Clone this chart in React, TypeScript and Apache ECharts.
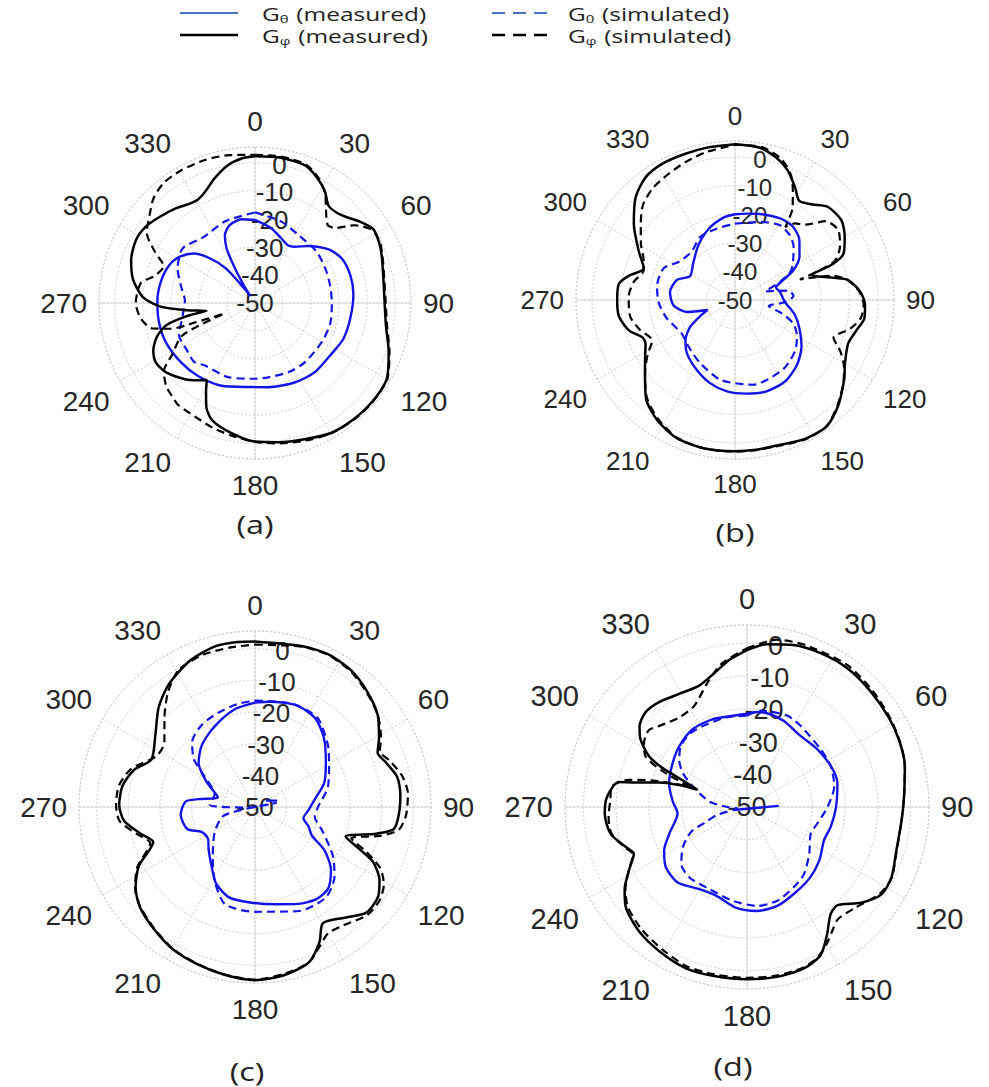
import React, { useEffect, useRef } from "react";
import * as echarts from "echarts";

// ---------- axis values ----------
const R_MIN = -50;
const R_MAX = 5.6;
const R_STEP = 10;
const ANGLE_STEP = 30;

// ---------- series names ----------
const NAME_T_MEAS = "Gθ (measured)";
const NAME_P_MEAS = "Gφ (measured)";
const NAME_T_SIM = "G0 (simulated)";
const NAME_P_SIM = "Gφ (simulated)";

// ---------- panel (a) : [angle deg, gain dB] ----------
const A_phiMeas = [
  [0, 2.3], [10, 2.6], [20, 2.2], [26, 0], [32, -3], [37, -6.5], [42, -6.6], [47, -5.2], [52, -2.8], [58, -0.3],
  [64, -0.8], [70, -1.9], [80, -3.5], [90, -3.8], [100, -2.6], [110, 0.7], [120, 4.2], [130, 4.6], [140, 4.3],
  [150, 3.6], [160, 1.7], [170, 0.4], [180, -0.6], [190, -2.8], [200, -5.5], [205, -9], [209, -14], [212, -17.6],
  [217, -15.5], [222, -13.3], [232, -9.8], [239, -8.8], [245, -10], [251, -13], [256, -17.5], [259, -25],
  [261, -32.5], [264, -25.5], [268, -16], [273, -10], [281, -5.7], [289, -3.3], [298, -2.0], [305, -2.5],
  [312, -4.2], [320, -6], [326, -7.5], [331, -7.9], [336, -6.5], [342, -3.3], [349, 0.1], [355, 1.8], [360, 2.3],
];
const A_phiSim = [
  [0, 2.8], [10, 3], [20, 2.6], [27, 0], [33, -4], [37, -8], [43, -12], [47, -10.8], [52, -5], [58, -0.8],
  [64, -0.5], [70, -1.6], [80, -3.2], [90, -3.4], [100, -2.2], [110, 1], [120, 4.4], [130, 4.8], [140, 4.5],
  [150, 3.8], [160, 2.2], [170, 0.8], [180, -0.5], [190, -2], [199, -3.1], [211, -4.4], [217, -4.5], [222, -5.6],
  [227, -6.7], [233, -9.3], [238, -15.1], [246, -21.7], [251, -38.4], [252, -27.3], [253, -18.6], [256, -12.4],
  [262, -9], [270, -7.5], [280, -8.7], [285, -12.9], [292, -14.9], [297, -10], [303, -4], [310, -1], [316, 2],
  [323, 3.8], [331, 4.1], [341, 4], [350, 3.5], [360, 2.8],
];
const A_thetaMeas = [
  [0, -20.4], [12, -22.7], [22, -25.1], [30, -26.3], [35, -25.5], [43, -22.2], [54, -17.5], [63, -15.2],
  [74, -14.6], [85, -14.8], [99, -15.6], [112, -16], [123, -17.2], [139, -17.4], [153, -18.3], [171, -19.6],
  [183, -20], [202, -18.2], [218, -17], [231, -16.2], [246, -15.3], [259, -15.1], [271, -15.2], [283, -15.6],
  [294, -16.6], [302, -18.7], [309, -22], [315, -27.7], [320, -34], [324, -44], [326, -47], [328, -42],
  [330, -35.8], [332.5, -28.1], [336, -23.6], [342, -20.8], [351, -19.8], [360, -20.4],
];
const A_thetaSim = [
  [0, -17.7], [18, -19.5], [33, -21.3], [50, -21.4], [64, -22.1], [77, -22.5], [90, -22.6], [105, -22.2],
  [120, -22.4], [140, -22.4], [154, -22.6], [170, -23.1], [180, -23], [200, -21.9], [219, -21.4], [226, -19.8],
  [236, -20.5], [247, -20.6], [260, -23.8], [272, -25], [283, -22.9], [294, -19.8], [307, -17.7], [322, -20.2],
  [340, -19], [360, -17.7],
];

// ---------- panel (b) ----------
const B_phiMeas = [
  [0, 4.5], [9, 4], [16, 1.9], [22, -1], [28, -5.3], [33, -8.7], [39, -7], [45, -4], [53, -3.5], [60, -5.7],
  [67, -8.8], [70, -14], [72, -21.7], [77, -15.2], [80, -9.8], [86, -6.2], [92, -4.5], [98, -4.3], [104, -6.2],
  [111, -7.6], [120, -5.6], [126, -2.8], [136, 1.8], [144, 4.6], [153, 4.4], [163, 3], [172, 2.9], [180, 2.9],
  [192, 3], [203, 2.4], [213, 0], [222, -3.5], [231, -9.5], [237, -12.5], [244, -15.2], [248, -15.1],
  [254, -11.4], [262, -9], [270, -8.8], [278, -9], [283, -12], [289, -16.3], [297, -12.2], [307, -5.7],
  [316, 0], [324, 3.1], [332, 4], [341, 4], [350, 4.2], [360, 4.5],
];
const B_phiSim = [
  [0, 4.3], [10, 4.3], [18, 2], [24, -2], [28, -6.9], [32, -12], [34.6, -19], [38, -16], [43, -14], [49, -8],
  [56, -6.4], [63, -8.8], [69, -13.1], [72.4, -26.2], [76, -15], [80, -10], [86, -6.5], [92, -5], [98, -5.5],
  [104, -8.5], [111, -13.1], [116, -9], [122, -5], [128, -2], [136, 1.5], [144, 4.5], [153, 4.6], [163, 3.3],
  [172, 3], [180, 3], [192, 3], [203, 2.2], [213, -0.5], [222, -4], [231, -9.5], [238, -14], [244, -17.8],
  [252.5, -15.2], [261, -12.9], [272, -12.8], [280, -14], [288, -16.4], [294, -15], [301, -11.6], [309, -7.6],
  [316, -3.7], [324, -1.4], [332, -0.2], [340, 1.2], [349, 2.7], [360, 4.3],
];
const B_thetaMeas = [
  [0, -20], [8, -19.5], [16, -18.7], [29, -17.4], [38, -17.3], [47, -19.2], [56, -22.8], [63, -27.1],
  [67.5, -31.7], [73, -35], [80, -34], [92, -32.6], [104, -28.4], [115, -25], [125, -21.6], [136, -18.7],
  [148, -16.6], [161, -16.2], [173, -17], [185, -17.9], [197, -19.7], [209, -22.2], [222, -24.9], [231, -27.7],
  [239, -31.7], [246, -37.2], [250, -39.8], [256, -32.7], [265, -28.4], [277, -27.1], [289, -28.5],
  [298, -32.2], [311, -30.6], [326, -27], [340, -23.4], [352, -20.9], [360, -20],
];
const B_thetaSim = [
  [0, -23.3], [18, -21.3], [31, -19.5], [40, -20.3], [48, -22.4], [62, -27.7], [68, -33], [74, -39], [80, -31],
  [86, -29.5], [93, -33], [100, -38], [106, -33], [112, -28], [120, -25], [130, -22.5], [145, -20.5],
  [168, -19.7], [190, -21.6], [209, -24.8], [225, -27], [238, -28], [255, -25.3], [268, -23.3], [280, -22.3],
  [294, -22.7], [304, -26.2], [318, -27.3], [331, -24.8], [346, -24.2], [360, -23.3],
];

// ---------- panel (c) ----------
const C_phiMeas = [
  [0, 2.3], [16, 2.9], [25.5, 3.5], [35, 2.8], [44, 0.9], [53, -1.5], [61, -5.2], [66, -7.6], [71, -6.4],
  [78, -4.1], [85, -3.9], [93, -4.5], [99, -5.6], [102.4, -10.8], [108, -19.9], [112, -14.3], [115, -8.8],
  [120.4, -4.4], [126, -1.9], [133.5, -1.5], [141, -5], [149.7, -7.5], [154.5, -2.7], [161, 2], [170, 3.9],
  [180, 4.7], [190, 3.9], [200, 2.9], [210, 1.9], [220, 0], [229, -1.8], [236, -4.5], [243, -8.8], [251, -16],
  [257, -12.8], [264, -8.4], [271, -7.1], [279, -7.6], [287, -10], [294.6, -14], [306, -11.1], [316, -6.2],
  [325, -2.6], [336, 0.6], [346, 2.3], [354, 2.4], [360, 2.3],
];
const C_phiSim = [
  [0, 1.3], [16, 2.7], [25.5, 3.3], [35, 2.5], [44, 0.6], [53, -1.5], [61, -4.5], [66, -6.8], [71, -5],
  [78, -2.5], [85, -1.5], [93, -2.2], [99, -4], [103, -9.5], [108, -18], [112, -12], [116, -6], [121, -2.5],
  [127, -0.8], [134, -0.8], [143, -3.3], [150, -3.9], [155, -1.5], [161, 2], [170, 3.5], [180, 4.5], [190, 3.8],
  [200, 2.8], [210, 1.8], [220, -0.2], [229, -2], [236, -4.3], [243, -8.3], [251, -15], [257, -11.8], [264, -7],
  [271, -6.1], [279, -6.5], [287, -9], [297.4, -15], [305.6, -14.8], [314.5, -9.9], [323, -4.4], [331, -0.4],
  [341, 0.8], [351, 1], [360, 1.3],
];
const C_thetaMeas = [
  [0, -17], [8, -16.4], [22, -15.3], [34, -16.1], [45, -19.2], [58, -23.6], [71, -26.9], [82.5, -30.9],
  [93, -33], [103, -34.3], [110, -32], [116.5, -30], [122, -24.1], [129.5, -18.9], [138, -15.4], [146, -15],
  [156, -16.5], [168, -18.6], [183, -19.8], [196, -20.3], [207, -22.9], [216, -26.7], [227, -30], [236, -32.1],
  [245, -31.4], [252, -27.5], [264, -26.4], [274.5, -28], [278, -32], [284.6, -37.9], [297.5, -32.7],
  [308, -27.4], [319, -24.3], [333, -21.6], [348, -18.5], [360, -17],
];
const C_thetaMeasTail = [[60, -46], [74, -42.7]];
const C_thetaSim = [
  [0, -16.4], [20, -15.3], [35, -15.6], [49, -19.6], [59, -22.7], [75, -26.2], [90, -30.1], [99, -30.9],
  [110, -27.2], [122, -21], [131, -16.7], [142, -13.7], [157, -14.3], [180, -16.9], [197, -17.8], [208, -23.1],
  [219, -28.8], [238, -35], [255, -40], [259, -57], [265, -48], [273, -35.7], [288, -36.6], [301, -31.5],
  [308, -25.5], [316, -21.4], [327, -19.1], [338, -18.1], [350, -17], [360, -16.4],
];

// ---------- panel (d) ----------
const D_phiMeas = [
  [0, -2.1], [7, 0.1], [16, 1.5], [25.6, 2.1], [36, 2.3], [47, 1.7], [58, 1.2], [67, 0.7], [75.5, -0.2],
  [86, -1.9], [95, -2.6], [106, -2.5], [116, -0.9], [123, -1], [130, -4.5], [137.3, -9.2], [142, -8.5],
  [148, -3.9], [153.5, 0.5], [160.6, 2.3], [170, 2.7], [180, 2.6], [191, 2.6], [200.7, 2.7], [211, 1.6],
  [221, 0.3], [230, -1.8], [236, -4.9], [241.7, -9], [247.5, -12.6], [252, -10.9], [259, -7.5], [267.4, -6.5],
  [274, -7.1], [281, -10], [282.4, -15.1], [285.6, -22.1], [288, -28.2], [289.3, -34], [293, -27.5],
  [294.8, -21.5], [297.4, -16.3], [302.5, -11.4], [307, -8.9], [313, -7.6], [320, -8.2], [329, -9.7],
  [338.7, -10.1], [347, -7.6], [353, -4.8], [360, -2.1],
];
const D_phiSim = [
  [0, -1.5], [10, 1.9], [20, 2.6], [35, 3.1], [47, 2.3], [58, 1.5], [67, 0.8], [75.5, -0.2], [86, -1.9],
  [95, -2.6], [106, -2.4], [116, -0.8], [123, -1.5], [133.3, -4.9], [141, -5.9], [145, -4.3], [150, -1.5],
  [155, 0.8], [161, 2], [170, 2.3], [180, 2.2], [191, 2.1], [201, 2], [211, 0.6], [221, -0.7], [230, -2.5],
  [236, -5.2], [241.7, -9], [247.5, -12.3], [252, -10.5], [259, -7.8], [266, -7.6], [273, -8.2], [278.6, -8.2],
  [283, -13], [286, -21], [289.6, -31.3], [293, -22], [296.6, -15.3], [302, -12.9], [308, -11.9],
  [312.7, -13.5], [323, -15.7], [332.6, -15.1], [342.6, -10], [350, -5.5], [360, -1.5],
];
const D_thetaMeas = [
  [0, -21.5], [6, -20.8], [14, -20.8], [23, -21.4], [37, -22.8], [50.7, -22.2], [64, -21.5], [75, -21.4],
  [90, -22.8], [103, -23.7], [113, -24.4], [126.6, -22.5], [139, -21], [152, -19.8], [163, -18.4],
  [174.6, -18.1], [186, -19], [199, -21.3], [210, -21], [222.6, -18.7], [233.4, -19.1], [242.3, -21.4],
  [251, -24.9], [264.7, -28.7], [274.6, -27.2], [287, -25.1], [300.7, -23.6], [312, -22.2], [325, -21],
  [338.8, -21.2], [351.4, -21.8], [360, -21.5],
];
const D_thetaMeasTail = [[257.6, -45.7], [88, -40.3]];
const D_thetaSim = [
  [0, -22.1], [7.8, -20.3], [23.7, -19.5], [33.4, -20.3], [52, -21.4], [64, -21.5], [76.7, -22.6], [90, -25.4],
  [103, -27.9], [112.7, -28.9], [127, -26.2], [139.7, -23.1], [150, -21.6], [162, -19.9], [174, -19.6],
  [188.4, -21], [204.5, -22.4], [219, -22.2], [229, -23.4], [238, -26.9], [246, -31.3], [250, -36.7],
  [255, -40.3], [258, -45.7], [262, -47], [270, -44], [278, -38.5], [289.7, -32.9], [297.9, -27.8],
  [305, -24.7], [312.7, -22.5], [321.6, -21.6], [331, -21.8], [347, -21.9], [360, -22.1],
];

const PANEL_LABELS = ["(a)", "(b)", "(c)", "(d)"];

// ---------- layout / style (not data) ----------
const W = 989;
const H = 1087;
const BLUE = "#1414e6";
const LEGEND_BLUE = "#4a72c4";
const BLACK = "#000000";
const TICK_COLOR = "#262626";
const GRID_COLOR = "#cfcfcf";
const DASH = [8, 5];
const TICK_FONT = "Liberation Sans, Arial, sans-serif";
const WORD_FONT = "Open Sans, Noto Sans, sans-serif";

const PANELS = [
  { cx: 255, cy: 303, R: 156, font: 28, rfont: 26, lx: 255, ly: 524, curves: [A_thetaMeas, A_thetaSim, A_phiMeas, A_phiSim], tails: [] as number[][][] },
  { cx: 735, cy: 300, R: 159, font: 26, rfont: 24, lx: 735, ly: 532, curves: [B_thetaMeas, B_thetaSim, B_phiMeas, B_phiSim], tails: [] as number[][][] },
  { cx: 255, cy: 807, R: 176, font: 28, rfont: 26, lx: 247, ly: 1071, curves: [C_thetaMeas, C_thetaSim, C_phiMeas, C_phiSim], tails: [C_thetaMeasTail] },
  { cx: 747, cy: 807, R: 182, font: 29, rfont: 27, lx: 733, ly: 1066, curves: [D_thetaMeas, D_thetaSim, D_phiMeas, D_phiSim], tails: [D_thetaMeasTail] },
];

const CURVE_META = [
  { name: NAME_T_MEAS, color: BLUE, type: "solid" as any, width: 2.4 },
  { name: NAME_T_SIM, color: BLUE, type: DASH as any, width: 2.2 },
  { name: NAME_P_MEAS, color: BLACK, type: "solid" as any, width: 2.5 },
  { name: NAME_P_SIM, color: BLACK, type: DASH as any, width: 2.2 },
];

const LEGEND_ITEMS = [
  { name: NAME_T_MEAS, color: LEGEND_BLUE, dash: false, x: 180, y: 13, tx: 262 },
  { name: NAME_P_MEAS, color: BLACK, dash: false, x: 180, y: 35, tx: 262 },
  { name: NAME_T_SIM, color: LEGEND_BLUE, dash: true, x: 492, y: 13, tx: 568 },
  { name: NAME_P_SIM, color: BLACK, dash: true, x: 492, y: 35, tx: 568 },
];

const toPolar = (arr: number[][]) => arr.map(([a, d]) => [d, a]);

function buildOption() {
  const polar: any[] = [];
  const angleAxis: any[] = [];
  const radiusAxis: any[] = [];
  const series: any[] = [];
  const graphic: any[] = [];

  PANELS.forEach((p, i) => {
    const base = i * 3;
    for (let k = 0; k < 3; k++) {
      polar.push({ center: [p.cx, p.cy], radius: [0, p.R] });
    }
    angleAxis.push({
      polarIndex: base,
      type: "value",
      min: 0,
      max: 360,
      interval: ANGLE_STEP,
      startAngle: 90,
      clockwise: true,
      axisLine: { show: true, lineStyle: { color: GRID_COLOR, width: 1, type: [2, 2] } },
      axisTick: { show: false },
      axisLabel: { show: true, margin: 12, color: TICK_COLOR, fontSize: p.font, fontFamily: TICK_FONT },
      splitLine: { show: true, lineStyle: { color: GRID_COLOR, width: 1, type: [2, 2] } },
    });
    radiusAxis.push({
      polarIndex: base,
      type: "value",
      min: R_MIN,
      max: R_MAX,
      interval: R_STEP,
      axisLine: { show: false },
      axisTick: { show: false },
      axisLabel: { show: false },
      splitLine: { show: true, lineStyle: { color: GRID_COLOR, width: 1, type: [2, 2] } },
    });
    angleAxis.push({ polarIndex: base + 1, type: "value", min: 0, max: 360, startAngle: 80, show: false });
    radiusAxis.push({
      polarIndex: base + 1,
      type: "value",
      min: R_MIN,
      max: R_MAX,
      interval: R_STEP,
      axisLine: { show: false },
      axisTick: { show: false },
      splitLine: { show: false },
      axisLabel: {
        show: true,
        margin: 0,
        align: "center",
        verticalAlign: "middle",
        showMinLabel: true,
        showMaxLabel: false,
        color: TICK_COLOR,
        fontSize: p.rfont,
        fontFamily: TICK_FONT,
        formatter: (v: number) => (v > 0 ? "" : String(v)),
      },
    });
    angleAxis.push({
      polarIndex: base + 2,
      type: "value",
      min: 0,
      max: 360,
      interval: 90,
      startAngle: 90,
      clockwise: true,
      axisLine: { show: false },
      axisTick: { show: false },
      axisLabel: { show: false },
      splitLine: { show: true, lineStyle: { color: "#d6d6d6", width: 1 } },
    });
    radiusAxis.push({ polarIndex: base + 2, type: "value", min: R_MIN, max: R_MAX, show: false });

    p.curves.forEach((c, j) => {
      const m = CURVE_META[j];
      series.push({
        type: "line",
        name: m.name,
        coordinateSystem: "polar",
        polarIndex: base,
        data: toPolar(c),
        symbol: "none",
        showSymbol: false,
        smooth: 0.25,
        clip: false,
        lineStyle: { color: m.color, width: m.width, type: m.type },
        itemStyle: { color: m.color },
        z: j >= 2 ? 4 : 3,
      });
    });
    p.tails.forEach((t) => {
      series.push({
        type: "line",
        name: NAME_T_MEAS,
        coordinateSystem: "polar",
        polarIndex: base,
        data: toPolar(t),
        symbol: "none",
        showSymbol: false,
        clip: false,
        lineStyle: { color: BLUE, width: 2.4 },
        itemStyle: { color: BLUE },
        z: 3,
      });
    });

    graphic.push({
      type: "text",
      x: p.lx,
      y: p.ly,
      scaleX: 1.3,
      style: {
        text: PANEL_LABELS[i],
        fill: "#222",
        fontSize: 25,
        fontFamily: WORD_FONT,
        align: "center",
        verticalAlign: "middle",
      },
    });
  });

  const rich = {
    g: { fontSize: 18, fontFamily: WORD_FONT, fill: "#222", color: "#222" },
    s: { fontSize: 11, fontFamily: WORD_FONT, fill: "#222", color: "#222", padding: [9, 1, 0, 0] },
  };
  LEGEND_ITEMS.forEach((it) => {
    graphic.push({
      type: "line",
      shape: { x1: it.x, y1: it.y, x2: it.x + 58, y2: it.y },
      style: { stroke: it.color, lineWidth: it.color === BLACK ? 2.4 : 2, lineDash: it.dash ? [13, 8] : null },
    });
    const sub = it.name.charAt(1);
    const rest = it.name.slice(2);
    graphic.push({
      type: "text",
      x: it.tx,
      y: it.y + 1,
      scaleX: 1.36,
      style: {
        text: `{g|G}{s|${sub}}{g|${rest}}`,
        rich,
        align: "left",
        verticalAlign: "middle",
      },
    });
  });

  return {
    animation: false,
    backgroundColor: "#ffffff",
    polar,
    angleAxis,
    radiusAxis,
    series,
    graphic,
  };
}

export default function App() {
  const ref = useRef<HTMLDivElement>(null);
  useEffect(() => {
    if (!ref.current) return;
    const chart = echarts.init(ref.current, undefined, { renderer: "svg", width: W, height: H });
    chart.setOption(buildOption() as any);
    return () => chart.dispose();
  }, []);
  return (
    <div
      ref={ref}
      style={{ position: "absolute", left: 0, top: 0, width: W, height: H, background: "#fff" }}
    />
  );
}
